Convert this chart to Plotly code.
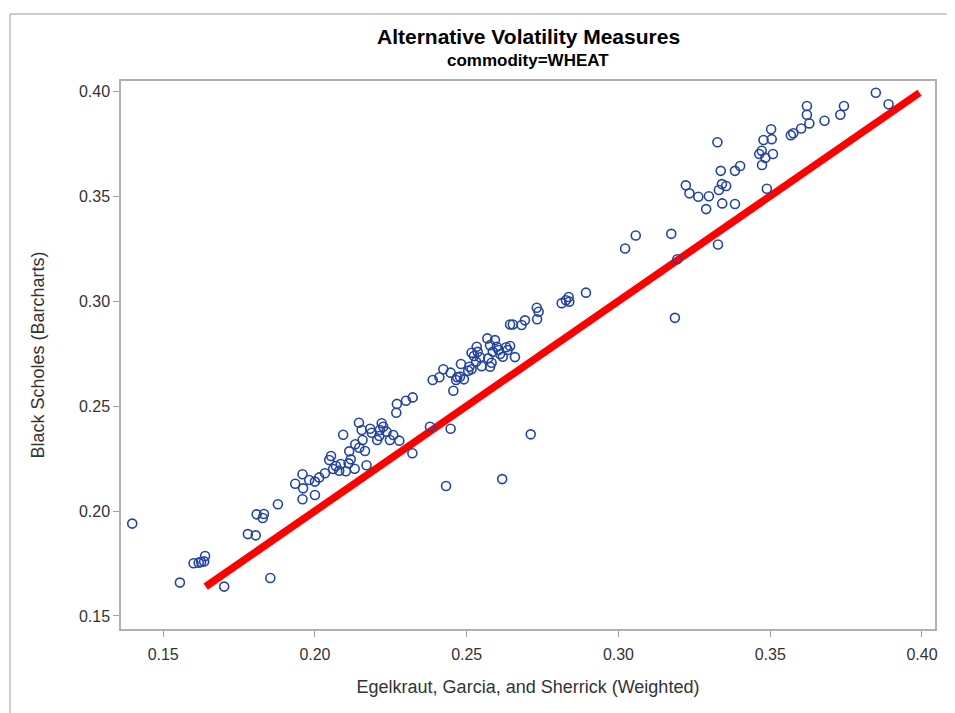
import plotly.graph_objects as go

# Egelkraut, Garcia, and Sherrick (Weighted)
egs = [0.1398, 0.1555, 0.1701, 0.1600, 0.1617, 0.1625, 0.1635, 0.1638, 0.1853, 0.1779,
       0.1805, 0.1808, 0.1832, 0.1828, 0.1878,
       0.1935, 0.1959, 0.1961, 0.1959, 0.1981, 0.2000, 0.2000, 0.2014, 0.2033,
       0.2047, 0.2053, 0.2060, 0.2069, 0.2080, 0.2085, 0.2093, 0.2102, 0.2111, 0.2113,
       0.2118, 0.2131, 0.2133, 0.2145, 0.2146, 0.2154, 0.2157, 0.2165, 0.2170, 0.2182,
       0.2187, 0.2205, 0.2212, 0.2214, 0.2220, 0.2225, 0.2236, 0.2247, 0.2258, 0.2268,
       0.2270, 0.2300, 0.2322, 0.2321, 0.2278,
       0.2379, 0.2447, 0.2432, 0.2617, 0.2711,
       0.2388, 0.2410, 0.2423, 0.2447, 0.2456, 0.2465, 0.2469, 0.2478, 0.2491, 0.2481,
       0.2505, 0.2509, 0.2516, 0.2516, 0.2524, 0.2533, 0.2536, 0.2544, 0.2531, 0.2549,
       0.2568, 0.2577, 0.2586, 0.2593, 0.2599, 0.2577, 0.2582, 0.2571, 0.2605, 0.2610,
       0.2619, 0.2630, 0.2635, 0.2643, 0.2659, 0.2643, 0.2652, 0.2681, 0.2692, 0.2731,
       0.2737, 0.2732, 0.2813, 0.2827, 0.2836, 0.2838, 0.2893,
       0.3022, 0.3057, 0.3174, 0.3194, 0.3186, 0.3328,
       0.3222, 0.3234, 0.3263, 0.3298, 0.3289, 0.3326, 0.3331, 0.3337, 0.3341, 0.3355,
       0.3342, 0.3384, 0.3384, 0.3401, 0.3464, 0.3472, 0.3484, 0.3473, 0.3509, 0.3478,
       0.3505, 0.3503, 0.3489, 0.3568, 0.3576, 0.3602, 0.3629, 0.3621, 0.3621, 0.3679,
       0.3731, 0.3743, 0.3848, 0.3890]

# Black Scholes (Barcharts)
bs = [0.1940, 0.1659, 0.1640, 0.1751, 0.1754, 0.1757, 0.1760, 0.1786, 0.1681, 0.1890,
      0.1884, 0.1984, 0.1986, 0.1967, 0.2032,
      0.2130, 0.2175, 0.2108, 0.2056, 0.2148, 0.2140, 0.2076, 0.2160, 0.2180,
      0.2243, 0.2262, 0.2200, 0.2214, 0.2192, 0.2224, 0.2363, 0.2189, 0.2227, 0.2284,
      0.2246, 0.2201, 0.2318, 0.2420, 0.2301, 0.2386, 0.2338, 0.2286, 0.2218, 0.2392,
      0.2373, 0.2338, 0.2357, 0.2386, 0.2418, 0.2401, 0.2378, 0.2338, 0.2362, 0.2468,
      0.2510, 0.2525, 0.2541, 0.2275, 0.2335,
      0.2401, 0.2392, 0.2119, 0.2152, 0.2365,
      0.2624, 0.2637, 0.2675, 0.2659, 0.2573, 0.2624, 0.2637, 0.2640, 0.2627, 0.2700,
      0.2668, 0.2687, 0.2675, 0.2754, 0.2738, 0.2782, 0.2758, 0.2732, 0.2711, 0.2690,
      0.2822, 0.2790, 0.2758, 0.2814, 0.2782, 0.2687, 0.2706, 0.2727, 0.2767, 0.2748,
      0.2735, 0.2780, 0.2767, 0.2786, 0.2733, 0.2888, 0.2888, 0.2886, 0.2908, 0.2968,
      0.2949, 0.2913, 0.2990, 0.3004, 0.3019, 0.2997, 0.3040,
      0.3250, 0.3312, 0.3320, 0.3199, 0.2920, 0.3269,
      0.3551, 0.3513, 0.3497, 0.3499, 0.3438, 0.3756, 0.3529, 0.3620, 0.3557, 0.3548,
      0.3465, 0.3462, 0.3620, 0.3643, 0.3700, 0.3716, 0.3682, 0.3648, 0.3700, 0.3767,
      0.3771, 0.3818, 0.3535, 0.3790, 0.3799, 0.3822, 0.3846, 0.3929, 0.3887, 0.3859,
      0.3887, 0.3929, 0.3992, 0.3937]

x_ticks = [0.15, 0.20, 0.25, 0.30, 0.35, 0.40]
y_ticks = [0.15, 0.20, 0.25, 0.30, 0.35, 0.40]

title = "Alternative Volatility Measures"
subtitle = "commodity=WHEAT"
x_title = "Egelkraut, Garcia, and Sherrick (Weighted)"
y_title = "Black Scholes (Barcharts)"

SANS = "Liberation Sans Narrow, Arial Narrow, Liberation Sans, Arial, sans-serif"

line_vals = sorted(bs)

fig = go.Figure()
fig.add_trace(go.Scatter(
    x=line_vals, y=line_vals, mode="lines",
    line=dict(color="#FF0000", width=7.5),
    hoverinfo="skip", showlegend=False))
fig.add_trace(go.Scatter(
    x=egs, y=bs, mode="markers",
    marker=dict(symbol="circle-open", size=9, color="#2444A2",
                line=dict(width=1.6, color="#2444A2")),
    showlegend=False))

axis_common = dict(
    showgrid=False, zeroline=False, showline=True, mirror=True,
    linecolor="#B0B0B0", linewidth=1.5,
    ticks="outside", ticklen=6, tickcolor="#A0A0A0", tickwidth=1,
    tickfont=dict(family=SANS, size=16, color="#333333"),
    tickformat=".2f",
)

fig.update_layout(
    width=955, height=713,
    paper_bgcolor="white", plot_bgcolor="white",
    margin=dict(l=113, r=28, t=73, b=92, autoexpand=False),
    xaxis=dict(range=[0.1361, 0.4043], tickvals=x_ticks, ticklabelstandoff=4,
               title=dict(text=x_title, font=dict(family=SANS, size=18, color="#333333"),
                          standoff=18),
               **axis_common),
    yaxis=dict(range=[0.1438, 0.4048], tickvals=y_ticks,
               title=dict(text=y_title, font=dict(family=SANS, size=18, color="#333333"),
                          standoff=30),
               **axis_common),
    annotations=[
        dict(text="<b>" + title + "</b>", xref="paper", yref="paper",
             x=0.5, y=1.0, yshift=45, xanchor="center", yanchor="middle",
             showarrow=False, font=dict(family=SANS, size=21, color="black")),
        dict(text="<b>" + subtitle + "</b>", xref="paper", yref="paper",
             x=0.5, y=1.0, yshift=21, xanchor="center", yanchor="middle",
             showarrow=False, font=dict(family=SANS, size=17, color="black")),
    ],
    shapes=[
        dict(type="line", xref="paper", yref="paper", x0=-0.1364, x1=1.2,
             y0=1.1223, y1=1.1223, line=dict(color="#CCCCCC", width=2)),
        dict(type="line", xref="paper", yref="paper", x0=-0.1364, x1=-0.1364,
             y0=-0.2, y1=1.1223, line=dict(color="#CCCCCC", width=2)),
    ],
)

fig.write_html("out.html")
